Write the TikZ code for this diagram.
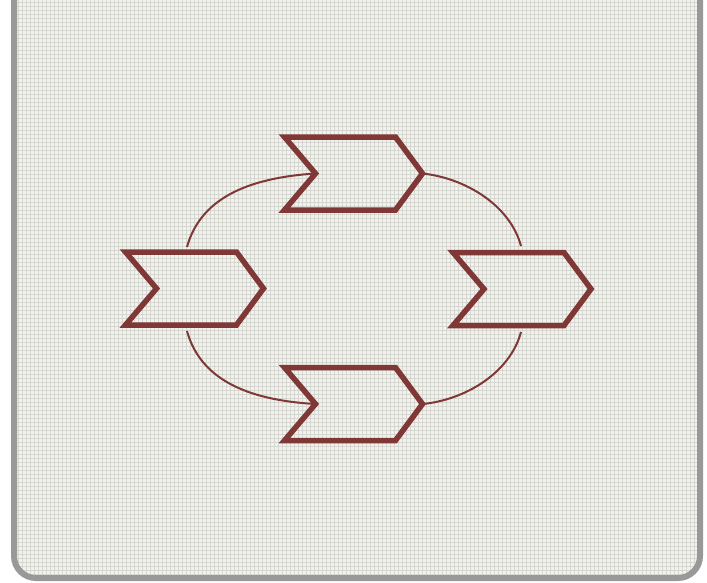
\documentclass[tikz,border=0pt]{standalone}
\definecolor{chev}{RGB}{128,56,54}
\definecolor{framec}{RGB}{153,153,153}
\definecolor{bgfill}{RGB}{242,242,239}
\definecolor{gridc}{RGB}{214,214,208}
\begin{document}
\begin{tikzpicture}[x=1pt,y=-1pt,
  chevbox/.style={draw=chev,line width=5.5pt,line join=miter},
  link/.style={draw=chev,line width=2pt},
  gridline/.style={draw=gridc,line width=0.9pt},
  framebox/.style={draw=framec,line width=6pt,rounded corners=22pt},
  pics/chevron/.style={code={
    \draw[chevbox] (0,0) -- (111,0) -- (138,36.5) -- (111,73) -- (0,73) -- (31,36.5) -- cycle;
    \coordinate (-notch) at (31,36.5);
    \coordinate (-tip) at (138,36.5);
  }}]
\useasboundingbox (0,0) rectangle (707,582);
% background panel
\fill[bgfill, rounded corners=22pt] (14,-40) rectangle (700,578);
\begin{scope}
  \clip[rounded corners=22pt] (14,-40) rectangle (700,578);
  \foreach \gx in {14,18,...,702} {\draw[gridline] (\gx,0) -- (\gx,582);}
  \foreach \gy in {2,6,...,582} {\draw[gridline] (14,\gy) -- (702,\gy);}
\end{scope}
\draw[framebox] (14,-40) rectangle (700,578);
% chevrons
\pic (topc) at (284.5,137) {chevron};
\pic (leftc) at (125.5,252) {chevron};
\pic (rightc) at (453,252.5) {chevron};
\pic (botc) at (284.5,367.5) {chevron};
% connector ends
\coordinate (lt) at (187,247);
\coordinate (lb) at (187,331);
\coordinate (rt) at (521,246);
\coordinate (rb) at (521,332);
% connectors
\draw[link] (lt) .. controls (200,200) and (245,178) .. (topc-notch);
\draw[link] (topc-tip) .. controls (465,178) and (510,205) .. (rt);
\draw[link] (lb) .. controls (200,378) and (245,400) .. (botc-notch);
\draw[link] (rb) .. controls (510,373) and (465,400) .. (botc-tip);
\end{tikzpicture}
\end{document}
